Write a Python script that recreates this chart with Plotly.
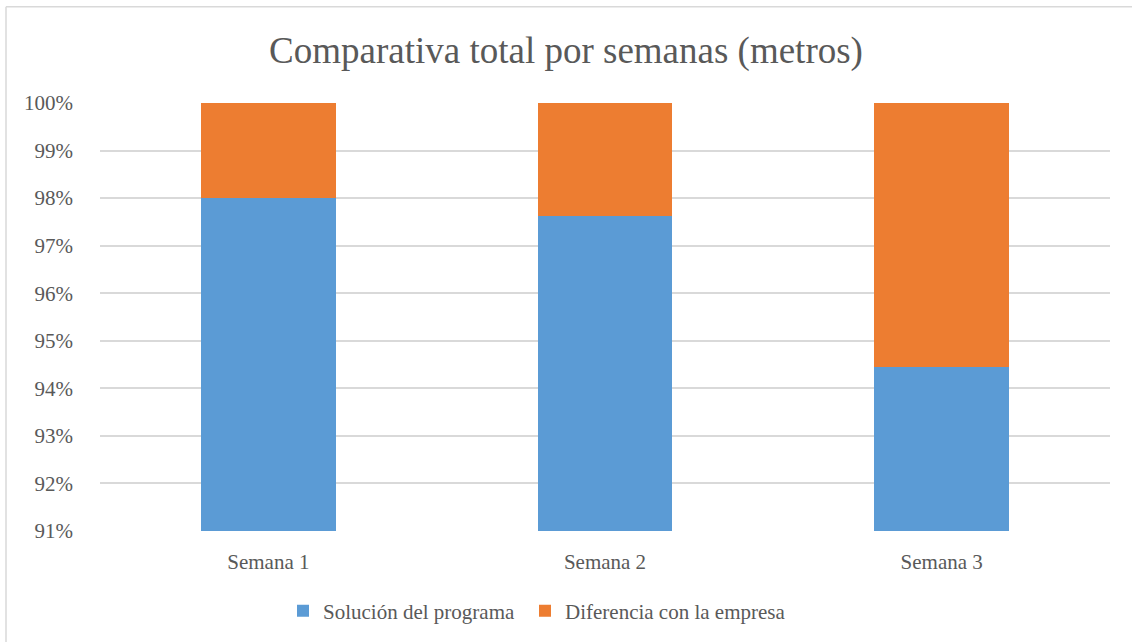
import plotly.graph_objects as go

# Weekly totals, expressed as share of the company figure
semanas = ["Semana 1", "Semana 2", "Semana 3"]
solucion_programa = [0.980, 0.9762, 0.9444]
diferencia_empresa = [0.020, 0.0238, 0.0556]
ticks_y = [0.91, 0.92, 0.93, 0.94, 0.95, 0.96, 0.97, 0.98, 0.99, 1.00]

W, H = 1132, 642
L, R, T, B = 100, 22, 103, 110
pw, ph = W - L - R, H - T - B

texto = "#595959"
fuente = "Liberation Serif"

fig = go.Figure()
fig.add_trace(go.Bar(x=semanas, y=solucion_programa, name="Solución del programa",
                     marker=dict(color="#5b9bd5", line=dict(width=0)),
                     legend="legend", showlegend=True))
fig.add_trace(go.Bar(x=semanas, y=diferencia_empresa, name="Diferencia con la empresa",
                     marker=dict(color="#ed7d31", line=dict(width=0)),
                     legend="legend2", showlegend=True))

# Light frame along the left and top edges of the chart area
x_left = (6 - L) / pw
y_top = 1 + (T - 6.5) / ph
fig.add_shape(type="line", xref="paper", yref="paper", x0=x_left, x1=x_left,
              y0=-2, y1=y_top, line=dict(color="#d9d9d9", width=1.5))
fig.add_shape(type="line", xref="paper", yref="paper", x0=x_left, x1=2,
              y0=y_top, y1=y_top, line=dict(color="#d9d9d9", width=1.5))

legend_y = -(611 - T - ph) / ph
legend_style = dict(orientation="h", xanchor="left", y=legend_y, yanchor="middle",
                    font=dict(family=fuente, size=21, color=texto),
                    itemwidth=30, bgcolor="rgba(0,0,0,0)", visible=True)

fig.update_layout(
    width=W, height=H,
    margin=dict(l=L, r=R, t=T, b=B),
    barmode="stack", bargap=0.6, showlegend=True,
    plot_bgcolor="white", paper_bgcolor="white",
    font=dict(family=fuente, color=texto, size=21),
    title=dict(text="Comparativa total por semanas (metros)", x=0.5, xanchor="center",
               y=1 - 50 / H, yanchor="middle",
               font=dict(family=fuente, size=37, color=texto)),
    xaxis=dict(showgrid=False, showline=False, ticks="",
               tickfont=dict(family=fuente, size=21, color=texto),
               ticklabelstandoff=16),
    yaxis=dict(range=[0.91, 1.0], tickvals=ticks_y, tickformat=".0%",
               showgrid=True, gridcolor="#d9d9d9", gridwidth=1.5,
               zeroline=False, showline=False, ticks="",
               tickfont=dict(family=fuente, size=21, color=texto),
               ticklabelstandoff=26),
    legend=dict(x=(283 - L) / pw, **legend_style),
    legend2=dict(x=(525 - L) / pw, **legend_style),
)

fig.write_html("out.html")
